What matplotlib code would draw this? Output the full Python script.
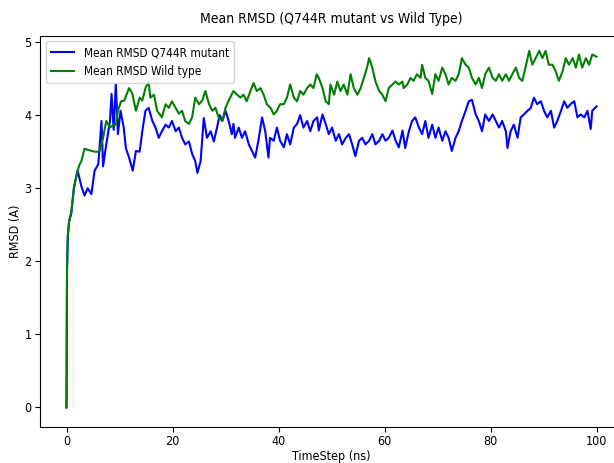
import matplotlib
matplotlib.use("Agg")
import matplotlib.pyplot as plt

# mean RMSD per trajectory, sampled off the simulation output (ns, Angstrom)
t_mutant = [
    0, 0.1, 0.25, 0.5, 0.9, 1.4, 2.1, 2.8, 3.4, 4.0, 4.7, 5.3, 6.0, 6.6, 6.9,
    7.5, 8.2, 8.5, 8.9, 9.3, 9.7, 10.2, 10.8, 11.2, 11.8, 12.5, 13.1, 13.8,
    14.4, 14.9, 15.5, 16.2, 16.8, 17.4, 18.0, 18.7, 19.3, 19.9, 20.6, 21.2,
    21.8, 22.4, 23.1, 23.7, 24.3, 24.7, 25.3, 25.9, 26.5, 27.2, 27.8, 28.4,
    28.9, 29.4, 30.0, 30.6, 31.2, 31.5, 31.8, 32.5, 33.1, 33.7, 34.4, 35.0,
    35.6, 36.2, 36.9, 37.5, 38.1, 38.4, 39.1, 39.7, 40.3, 41.0, 41.6, 42.2,
    42.9, 43.5, 44.1, 44.7, 45.4, 46.0, 46.6, 47.3, 47.6, 48.3, 48.9, 49.5,
    50.1, 50.8, 51.4, 52.0, 52.7, 53.3, 53.9, 54.5, 55.2, 55.8, 56.4, 57.1,
    57.7, 58.3, 59.0, 59.6, 60.2, 60.8, 61.5, 62.1, 62.7, 63.4, 63.9, 64.6,
    65.2, 65.8, 66.5, 67.1, 67.7, 68.3, 69.0, 69.6, 70.2, 70.9, 71.5, 72.1,
    72.7, 73.4, 74.0, 74.6, 75.3, 75.9, 76.5, 77.2, 77.8, 78.4, 79.0, 79.7,
    80.4, 81.0, 81.6, 82.2, 82.9, 83.2, 83.8, 84.4, 85.1, 85.7, 86.3, 87.0,
    87.6, 88.2, 88.8, 89.5, 90.1, 90.7, 91.4, 92.0, 92.6, 93.3, 93.9, 94.5,
    95.1, 95.8, 96.4, 97.0, 97.7, 98.3, 98.9, 99.2, 100.0,
]
rmsd_mutant = [
    0.0, 1.9, 2.35, 2.55, 2.65, 3.01, 3.24, 3.03, 2.90, 3.00, 2.92, 3.24,
    3.33, 3.92, 3.30, 3.60, 3.92, 4.29, 3.80, 4.43, 3.74, 4.06, 3.83, 3.55,
    3.42, 3.24, 3.51, 3.50, 3.83, 4.06, 4.10, 3.92, 3.83, 3.69, 3.78, 3.87,
    3.83, 3.92, 3.78, 3.83, 3.69, 3.60, 3.64, 3.47, 3.37, 3.21, 3.37, 3.96,
    3.69, 3.78, 3.64, 3.83, 4.00, 3.92, 4.06, 3.92, 3.74, 3.88, 3.69, 3.83,
    3.69, 3.78, 3.60, 3.51, 3.42, 3.65, 3.97, 3.78, 3.42, 3.69, 3.65, 3.83,
    3.65, 3.56, 3.74, 3.60, 3.83, 3.88, 4.00, 3.83, 3.92, 3.78, 3.92, 3.97,
    3.79, 4.01, 3.88, 3.74, 3.83, 3.65, 3.74, 3.60, 3.69, 3.74, 3.60, 3.44,
    3.65, 3.69, 3.60, 3.65, 3.74, 3.60, 3.65, 3.74, 3.65, 3.69, 3.79, 3.65,
    3.56, 3.79, 3.55, 3.78, 3.92, 3.97, 3.83, 3.74, 3.92, 3.69, 3.87, 3.69,
    3.83, 3.65, 3.78, 3.69, 3.51, 3.69, 3.78, 3.92, 4.06, 4.19, 4.21, 4.01,
    3.92, 3.78, 4.01, 3.92, 4.01, 3.92, 3.83, 3.92, 3.78, 3.55, 3.78, 3.87,
    3.69, 3.97, 4.01, 4.06, 4.10, 4.24, 4.15, 4.19, 4.06, 3.97, 4.06, 3.83,
    3.92, 4.06, 4.19, 4.10, 4.15, 4.19, 3.97, 4.01, 3.97, 4.06, 3.81, 4.06,
    4.12,
]

t_wild = [
    0, 0.1, 0.25, 0.5, 0.9, 1.4, 2.0, 2.5, 2.8, 3.4, 4.3, 5.3, 6.2, 6.9, 7.5,
    8.2, 8.8, 9.3, 9.7, 10.3, 10.9, 11.8, 12.4, 13.1, 13.8, 14.3, 14.9, 15.5,
    15.8, 16.5, 17.1, 18.0, 18.7, 19.3, 19.9, 20.6, 21.2, 21.8, 22.4, 23.1,
    23.7, 24.3, 25.0, 25.6, 26.2, 26.9, 27.5, 28.1, 28.7, 29.4, 30.0, 30.6,
    31.5, 32.2, 32.8, 33.4, 34.0, 34.7, 35.3, 35.9, 36.6, 37.2, 37.8, 38.5,
    39.1, 39.7, 40.3, 41.0, 41.6, 42.2, 42.9, 43.5, 44.1, 44.7, 45.4, 46.0,
    46.6, 47.2, 47.6, 48.3, 48.9, 49.5, 49.8, 50.5, 51.1, 51.7, 52.3, 53.0,
    53.6, 54.2, 54.9, 55.5, 56.1, 56.7, 57.1, 57.7, 58.3, 59.0, 59.6, 60.2,
    60.8, 61.5, 62.1, 62.7, 63.4, 63.6, 64.3, 64.9, 65.5, 66.1, 66.8, 67.1,
    67.7, 68.3, 69.0, 69.6, 70.2, 70.9, 71.5, 72.1, 72.7, 73.4, 74.0, 74.6,
    75.3, 75.9, 76.5, 77.2, 77.8, 78.4, 79.0, 79.7, 80.4, 81.0, 81.6, 82.2,
    82.9, 83.5, 84.1, 84.8, 85.4, 86.0, 86.6, 87.3, 87.9, 88.5, 89.2, 89.8,
    90.4, 91.0, 91.7, 92.3, 92.9, 93.6, 94.2, 94.8, 95.5, 96.1, 96.7, 97.3,
    98.0, 98.6, 99.2, 100.0,
]
rmsd_wild = [
    0.0, 1.9, 2.35, 2.55, 2.68, 3.00, 3.22, 3.33, 3.37, 3.54, 3.52, 3.50,
    3.50, 3.69, 3.92, 3.83, 3.87, 3.87, 4.06, 4.19, 4.20, 4.37, 4.30, 4.06,
    4.24, 4.20, 4.37, 4.46, 4.24, 4.28, 4.06, 3.97, 4.15, 4.10, 4.19, 4.10,
    4.02, 4.06, 3.92, 3.88, 3.97, 4.24, 4.15, 4.20, 4.33, 4.15, 4.06, 4.10,
    3.97, 3.92, 4.10, 4.20, 4.33, 4.28, 4.24, 4.28, 4.19, 4.33, 4.44, 4.33,
    4.37, 4.28, 4.15, 4.10, 4.01, 4.06, 4.15, 4.15, 4.24, 4.42, 4.24, 4.19,
    4.33, 4.28, 4.37, 4.42, 4.37, 4.56, 4.51, 4.37, 4.19, 4.15, 4.42, 4.28,
    4.46, 4.33, 4.42, 4.28, 4.56, 4.37, 4.28, 4.37, 4.51, 4.65, 4.78, 4.65,
    4.46, 4.33, 4.28, 4.19, 4.37, 4.42, 4.46, 4.42, 4.46, 4.37, 4.42, 4.51,
    4.47, 4.56, 4.51, 4.69, 4.51, 4.47, 4.29, 4.56, 4.47, 4.65, 4.56, 4.42,
    4.51, 4.47, 4.56, 4.78, 4.69, 4.65, 4.51, 4.42, 4.51, 4.37, 4.56, 4.65,
    4.51, 4.47, 4.56, 4.47, 4.56, 4.47, 4.56, 4.65, 4.51, 4.47, 4.65, 4.88,
    4.69, 4.78, 4.88, 4.78, 4.88, 4.69, 4.69, 4.60, 4.47, 4.60, 4.78, 4.69,
    4.78, 4.65, 4.83, 4.65, 4.78, 4.69, 4.83, 4.80,
]

# narrow DejaVu face (falls back to the normal width if it is missing)
plt.rcParams["font.family"] = ["DejaVu Sans"]
plt.rcParams["font.stretch"] = "condensed"

fig = plt.figure(figsize=(6.14, 4.63), dpi=100)
ax = fig.add_axes([40 / 614, 36.5 / 463, 583 / 614, 391 / 463])

ax.plot(t_mutant, rmsd_mutant, color="blue", linewidth=1.5,
        label="Mean RMSD Q744R mutant")
ax.plot(t_wild, rmsd_wild, color="green", linewidth=1.5,
        label="Mean RMSD Wild type")

ax.set_xlim(-5, 105)
ax.set_ylim(-0.26, 5.09)
ax.tick_params(labelsize=9, pad=2.5)
ax.set_title("Mean RMSD (Q744R mutant vs Wild Type)", fontsize=10, pad=9)
ax.set_xlabel("TimeStep (ns)", fontsize=9, labelpad=1.5)
ax.set_ylabel("RMSD (A)", fontsize=9, labelpad=2)
ax.legend(loc="upper left", fontsize=8.5)

fig.savefig("out.png", dpi=100)
